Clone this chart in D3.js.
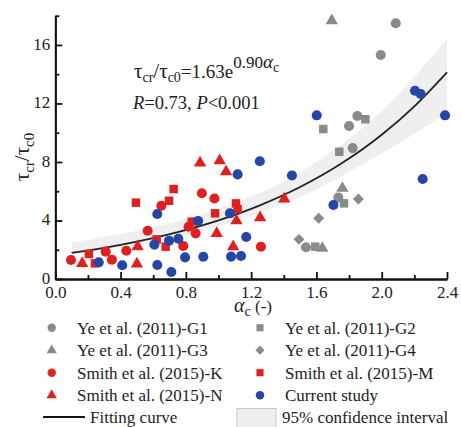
<!DOCTYPE html>
<html>
<head>
<meta charset="utf-8">
<script src="https://cdn.jsdelivr.net/npm/d3@7"></script>
<style>
    body { margin: 0; background: #fff; }
    text { font-family: 'Liberation Serif', 'Times New Roman', serif; fill: #222; }
</style>
</head>
<body>
<div id="chart"></div>
<script>
/* Ye et al. (2011) groups: [alpha_c, tau_cr/tau_c0] */
var yeG1 = [[1.536, 2.17], [1.734, 5.56], [1.822, 8.95], [1.80, 10.46], [1.851, 11.14], [1.994, 15.31], [2.086, 17.48]];
var yeG2 = [[1.593, 2.21], [1.769, 5.17], [1.74, 8.7], [1.642, 10.25], [1.90, 10.92]];
var yeG3 = [[1.636, 2.1], [1.759, 6.2], [1.694, 17.66]];
var yeG4 = [[1.493, 2.71], [1.614, 4.15], [1.857, 5.47]];

/* Smith et al. (2015) groups */
var smithK = [[0.096, 1.30], [0.309, 1.87], [0.347, 1.32], [0.435, 1.93], [0.566, 3.30], [0.65, 5.01],
    [0.784, 2.26], [0.817, 3.57], [0.86, 3.12], [0.898, 5.86], [0.975, 5.5], [1.26, 2.21]];
var smithM = [[0.206, 1.71], [0.243, 1.07], [0.494, 5.22], [0.621, 2.71], [0.676, 2.21], [0.697, 5.35],
    [0.725, 6.15], [0.836, 3.92], [0.979, 4.49], [1.107, 5.17], [1.117, 4.78]];
var smithN = [[0.165, 1.07], [0.50, 1.03], [0.505, 2.21], [0.887, 7.93], [1.007, 8.09], [1.046, 7.34],
    [0.989, 3.12], [1.09, 2.21], [1.11, 3.98], [1.255, 4.2], [1.403, 5.47]];

/* current study */
var current = [[0.266, 1.14], [0.41, 0.94], [0.607, 2.35], [0.625, 4.44], [0.625, 0.96], [0.697, 2.62],
    [0.711, 0.48], [0.754, 2.75], [0.795, 1.48], [0.875, 3.97], [0.907, 1.52], [1.07, 4.49], [1.077, 1.53],
    [1.117, 7.15], [1.138, 1.57], [1.17, 2.87], [1.253, 8.05], [1.45, 7.08], [1.602, 11.19], [1.704, 5.06],
    [2.204, 12.87], [2.239, 12.65], [2.251, 6.84], [2.388, 11.19]];

/* fitted curve tau = a * exp(b * alpha) and its 95% band */
var fitA = 1.63, fitB = 0.90;
var fitX = [0.1, 0.3, 0.5, 0.75, 1.0, 1.25, 1.5, 1.75, 2.0, 2.2, 2.4];
var bandX = [0.1, 0.5, 1.0, 1.5, 2.0, 2.4];
var bandLow = [1.65, 2.3, 3.6, 5.6, 8.6, 11.3];
var bandHigh = [2.5, 3.3, 4.8, 7.3, 11.5, 16.4];

var xTicksMajor = [0, 0.4, 0.8, 1.2, 1.6, 2.0, 2.4];
var xTicksMinor = [0.2, 0.6, 1.0, 1.4, 1.8, 2.2];
var yTicksMajor = [0, 4, 8, 12, 16];
var yTicksMinor = [2, 6, 10, 14, 18];

var grey = '#8a8a8a', red = '#e0201e', blue = '#2546a6';

var series = [
    { name: 'Ye et al. (2011)-G1', data: yeG1, shape: 'circle', color: grey },
    { name: 'Ye et al. (2011)-G2', data: yeG2, shape: 'square', color: grey },
    { name: 'Ye et al. (2011)-G3', data: yeG3, shape: 'triangle', color: grey },
    { name: 'Ye et al. (2011)-G4', data: yeG4, shape: 'diamond', color: grey },
    { name: 'Smith et al. (2015)-K', data: smithK, shape: 'circle', color: red },
    { name: 'Smith et al. (2015)-M', data: smithM, shape: 'square', color: red },
    { name: 'Smith et al. (2015)-N', data: smithN, shape: 'triangle', color: red },
    { name: 'Current study', data: current, shape: 'circle', color: blue }
];

/* diamonds are squares turned by 45 degrees */
var shapes = {
    circle: { type: d3.symbolCircle, size: 80, rot: 0 },
    square: { type: d3.symbolSquare, size: 72, rot: 0 },
    triangle: { type: d3.symbolTriangle, size: 66, rot: 0 },
    diamond: { type: d3.symbolSquare, size: 60, rot: 45 }
};

function symbolPath(shape, small) {
    var s = shapes[shape];
    return d3.symbol().type(s.type).size(s.size * (small ? 0.7 : 1))();
}

var svg = d3.select('#chart').append('svg')
    .attr('width', 461)
    .attr('height', 427);

var x = d3.scaleLinear().domain([0, 2.4]).range([55.3, 447]);
var y = d3.scaleLinear().domain([0, 18]).range([279, 15.7]);

/* confidence band */
var band = bandX.map(function(d, i) { return [d, bandLow[i], bandHigh[i]]; });
svg.append('path')
    .datum(band)
    .attr('fill', '#efefef')
    .attr('d', d3.area()
        .curve(d3.curveMonotoneX)
        .x(function(d) { return x(d[0]); })
        .y0(function(d) { return y(d[1]); })
        .y1(function(d) { return y(d[2]); }));

/* fitting curve */
svg.append('path')
    .datum(fitX)
    .attr('fill', 'none')
    .attr('stroke', '#222')
    .attr('stroke-width', 1.8)
    .attr('d', d3.line()
        .curve(d3.curveMonotoneX)
        .x(function(d) { return x(d); })
        .y(function(d) { return y(fitA * Math.exp(fitB * d)); }));

/* points */
series.forEach(function(s) {
    svg.append('g').selectAll('path')
        .data(s.data)
        .enter()
        .append('path')
        .attr('transform', function(d) {
            return 'translate(' + x(d[0]) + ',' + y(d[1]) + ') rotate(' + shapes[s.shape].rot + ')';
        })
        .attr('d', symbolPath(s.shape))
        .attr('fill', s.color);
});

/* axes */
var fmtX = d3.format('.1f');
var xAxis = svg.append('g').attr('transform', 'translate(0,279)');
xAxis.call(d3.axisBottom(x).tickValues(xTicksMajor).tickFormat(fmtX).tickSize(-7).tickSizeOuter(0).tickPadding(7));
xAxis.append('g').call(d3.axisBottom(x).tickValues(xTicksMinor).tickFormat('').tickSize(-4).tickSizeOuter(0));

var yAxis = svg.append('g').attr('transform', 'translate(55.3,0)');
yAxis.call(d3.axisLeft(y).tickValues(yTicksMajor).tickSize(-7).tickSizeOuter(0).tickPadding(5));
yAxis.append('g').call(d3.axisLeft(y).tickValues(yTicksMinor).tickFormat('').tickSize(-4).tickSizeOuter(0));

svg.selectAll('.domain, .tick line')
    .attr('stroke', '#111')
    .attr('stroke-width', 1.8);
svg.selectAll('.tick text')
    .attr('font-family', "'Liberation Serif', serif")
    .attr('font-size', 17)
    .attr('fill', '#222');
yAxis.selectAll('.tick text').attr('dy', '0.25em');

/* axis titles */
var xt = svg.append('text')
    .attr('x', 253)
    .attr('y', 312)
    .attr('text-anchor', 'middle')
    .attr('font-size', 17);
xt.append('tspan').attr('font-style', 'italic').attr('font-size', 20).text('α');
xt.append('tspan').attr('font-size', 14).attr('dy', 4).text('c');
xt.append('tspan').attr('dy', -4).text(' (-)');

var yt = svg.append('text')
    .attr('transform', 'translate(29,157) rotate(-90)')
    .attr('text-anchor', 'middle')
    .attr('font-size', 21);
yt.append('tspan').text('τ');
yt.append('tspan').attr('font-size', 15).attr('dy', 5).text('cr');
yt.append('tspan').attr('dy', -5).text('/τ');
yt.append('tspan').attr('font-size', 15).attr('dy', 5).text('c0');

/* equation */
var eq = svg.append('text')
    .attr('x', 134)
    .attr('y', 78)
    .attr('font-size', 19);
eq.append('tspan').attr('font-size', 21).text('τ');
eq.append('tspan').attr('font-size', 14).attr('dy', 4).text('cr');
eq.append('tspan').attr('font-size', 21).attr('dy', -4).text('/τ');
eq.append('tspan').attr('font-size', 14).attr('dy', 4).text('c0');
eq.append('tspan').attr('dy', -4).text('=1.63e');
eq.append('tspan').attr('font-size', 17).attr('dy', -10).text('0.90');
eq.append('tspan').attr('font-size', 19).attr('font-style', 'italic').text('α');
eq.append('tspan').attr('font-size', 14).attr('dy', 4).text('c');

var st = svg.append('text')
    .attr('x', 133)
    .attr('y', 109)
    .attr('font-size', 18.5);
st.append('tspan').attr('font-style', 'italic').text('R');
st.append('tspan').text('=0.73, ');
st.append('tspan').attr('font-style', 'italic').text('P');
st.append('tspan').text('<0.001');

/* legend */
var rowY = [327.7, 350.2, 372.7, 395.2];
var legend = svg.append('g');
series.forEach(function(s, i) {
    var col = i % 2, row = Math.floor(i / 2);
    var mx = col === 0 ? 51.7 : 260, tx = col === 0 ? 77 : 285;
    legend.append('path')
        .attr('transform', 'translate(' + mx + ',' + rowY[row] + ') rotate(' + shapes[s.shape].rot + ')')
        .attr('d', symbolPath(s.shape, true))
        .attr('fill', s.color);
    legend.append('text')
        .attr('x', tx)
        .attr('y', rowY[row] + 6)
        .attr('font-size', 17)
        .text(s.name);
});

legend.append('line')
    .attr('x1', 43).attr('x2', 85)
    .attr('y1', 417).attr('y2', 417)
    .attr('stroke', '#111')
    .attr('stroke-width', 2);
legend.append('text')
    .attr('x', 90).attr('y', 423)
    .attr('font-size', 17)
    .text('Fitting curve');
legend.append('rect')
    .attr('x', 237).attr('y', 408.5)
    .attr('width', 39).attr('height', 24)
    .attr('fill', '#efefef')
    .attr('stroke', '#c8c8c8');
legend.append('text')
    .attr('x', 282).attr('y', 423)
    .attr('font-size', 17)
    .text('95% confidence interval');
</script>
</body>
</html>
